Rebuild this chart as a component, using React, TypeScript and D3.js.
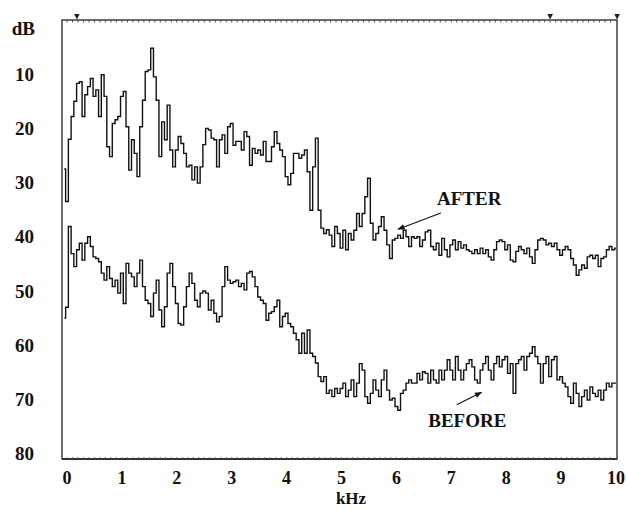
import React, { useEffect, useRef } from "react"
import * as d3 from "d3"

// spectra sampled every 0.05 kHz starting at -0.05 kHz (dB below reference)
const FREQ_START = -0.05
const FREQ_STEP = 0.05

const afterDb = [
  27.5, 33.5, 22, 17.8, 15, 11.7, 11.4, 17.8, 13.8, 12.3, 10.8, 14.1, 12.9, 17.8, 10.1, 14.1, 23.4, 25.2, 19.1, 18.4, 17.8,
  14.1, 13.2, 19.7, 27.7, 22.1, 24.6, 28.9, 19.7, 14.8, 9.5, 9.2, 5.2, 10.5, 14.8, 25.2, 18.8, 22.1, 15.7, 24, 27.1,
  24, 21.5, 22.8, 24.6, 27.1, 26.8, 29.5, 27.1, 30.1, 27.1, 23, 20, 20.3, 21.8, 22.1, 27.1, 22.1, 21.2, 24.6, 19.7,
  19.1, 23.1, 22.4, 22.4, 24, 20.6, 21.5, 26.8, 23.7, 24.6, 24, 24.9, 22.4, 26.1, 26.1, 23.4, 20.6, 22.8, 24, 25.2,
  28.9, 30.4, 28.3, 24.6, 24.6, 25.5, 24.9, 24, 28, 35.1, 27.1, 21.8, 35.1, 38.4, 39.4, 38.7, 39.7, 41.8, 38.1, 39.4,
  42.1, 38.8, 42.4, 39.4, 40.6, 38.8, 35.7, 38.1, 35.7, 32.6, 29.2, 37.5, 40.6, 39.4, 38.1, 36.3, 38.8, 41.5, 44, 40.6,
  40.3, 39.7, 40.3, 38.8, 40, 41.8, 40, 40.3, 40, 41.8, 40.6, 39.1, 38.8, 41.8, 42.4, 41.2, 43.4, 40.3, 42.4, 43.7,
  41.5, 40.6, 42.4, 40.9, 42.1, 41.5, 42.4, 42.7, 43.1, 42.4, 43.1, 42.1, 43.1, 42.4, 43.7, 44.3, 42.4, 40.9, 40.6, 40.9,
  42.4, 41.5, 44.3, 44.6, 42.7, 41.8, 42.4, 43.1, 42.1, 43.7, 44.9, 42.4, 40.6, 40.3, 40.6, 41.5, 41.2, 41.8, 41.2, 42.4,
  43.4, 42.4, 41.8, 42.4, 44, 45.2, 47.1, 46.1, 45.2, 45.8, 43.7, 43.4, 44, 43.4, 45.5, 44, 43.7, 42.4, 41.8, 42.4,
  42.1,
]

const beforeDb = [
  55, 53, 38.1, 43.1, 45.5, 42.4, 41.2, 44.3, 41.2, 40, 41.8, 43.7, 44, 44.6, 46.7, 48, 45.5, 47.7, 49.2, 48, 50.4,
  46.7, 52.3, 44.9, 46.7, 47.4, 49.2, 46.7, 44.3, 49.2, 51.7, 52.3, 54.7, 50.4, 48, 53.5, 56.6, 52.9, 46.7, 44.9, 49.2,
  52.3, 56, 56.3, 52.9, 49.2, 46.7, 48.6, 51.7, 52.9, 50.4, 50, 50.4, 53.5, 51.7, 54.1, 55.7, 54.7, 49.2, 45.5, 48,
  48.6, 48.3, 48, 49.2, 48.6, 49.8, 46.7, 46.4, 47.4, 49.2, 51.1, 51.7, 52.3, 55.4, 54.1, 53.8, 52.9, 51.7, 56.6, 54.7,
  54.1, 56, 56.6, 57.8, 59, 61.5, 57.8, 61.5, 57.2, 61.5, 62.1, 63.3, 65.8, 66.7, 65.8, 68.9, 68.3, 69.5, 68, 68.9,
  68, 67, 69.5, 68.3, 66.4, 69.5, 67, 63.4, 64.6, 69.5, 70.7, 68.9, 66.4, 68.3, 69.5, 66.4, 64.6, 68.3, 70.1, 69.8,
  71.3, 72, 68.9, 68.3, 67, 66.4, 67, 67, 65.2, 66.4, 64.9, 65.2, 67, 64.6, 66.4, 67, 64.6, 66.4, 64.6, 62.7,
  64.6, 66.4, 62.1, 64.6, 66.4, 64.6, 63.4, 62.7, 64, 66.4, 67, 64.6, 63.4, 62.1, 64.6, 66.4, 63.4, 62.1, 64, 62.7,
  62.1, 65.2, 63.4, 68.9, 63.4, 62.7, 62.1, 64.6, 62.1, 61.5, 60.3, 62.1, 63.4, 67, 63.4, 62.1, 65.8, 62.7, 62.1, 66.4,
  65.8, 67, 67.7, 69.5, 70.7, 67, 68.9, 71.3, 69.5, 68.3, 70.1, 67.7, 68.9, 69.5, 68.3, 70.1, 68.3, 67, 67.7, 67,
  67,
]

const xTicks = [0, 1, 2, 3, 4, 5, 6, 7, 8, 9, 10]
const yTicks = [10, 20, 30, 40, 50, 60, 70, 80]
const markerKHz = [0.18, 8.8, 10.02]

// label text, anchor point and arrow start/end, all in kHz / dB
const notes = [
  { text: "AFTER", at: [6.74, 34.1], from: [6.81, 35.6], to: [6.03, 38.6] },
  { text: "BEFORE", at: [6.58, 75.1], from: [7.1, 71.0], to: [7.55, 68.7] },
]

const W = 626
const H = 509
const FONT = "'Liberation Serif', 'DejaVu Serif', serif"

export const useD3 = (
  renderChartFn: (sel: d3.Selection<SVGSVGElement, unknown, null, undefined>) => void,
  dependencies: any[]
) => {
  const ref = useRef<SVGSVGElement>(null)
  useEffect(() => {
    if (ref.current) {
      const svg = d3.select(ref.current!)
      svg.selectAll("*").remove()
      renderChartFn(svg)
    }
  }, dependencies)
  return ref
}

export default function App() {
  const ref = useD3((svg) => {
    const frame = { left: 62, right: 617, top: 20, bottom: 459 }

    const x = d3.scaleLinear().domain([0, 10]).range([67, 616])
    const y = d3.scaleLinear().domain([0, 81]).range([frame.top, frame.bottom])

    svg
      .append("defs")
      .append("marker")
      .attr("id", "head")
      .attr("viewBox", "0 0 10 10")
      .attr("refX", 9)
      .attr("refY", 5)
      .attr("markerWidth", 7)
      .attr("markerHeight", 6)
      .attr("orient", "auto")
      .append("path")
      .attr("d", "M0,1 L10,5 L0,9 Z")
      .attr("fill", "#111")

    // frame
    const g = svg.append("g")
    g.append("rect")
      .attr("x", frame.left)
      .attr("y", frame.top)
      .attr("width", frame.right - frame.left)
      .attr("height", frame.bottom - frame.top)
      .attr("fill", "none")
      .attr("stroke", "#222")
      .attr("stroke-width", 1.3)
    g.append("line")
      .attr("x1", frame.left)
      .attr("x2", frame.right)
      .attr("y1", frame.bottom)
      .attr("y2", frame.bottom)
      .attr("stroke", "#333")
      .attr("stroke-width", 2)

    // ruler ticks on top and bottom frame
    const minor = d3.range(0, 100).map((i) => i / 10)
    g.selectAll(".top-tick")
      .data(minor)
      .enter()
      .append("line")
      .attr("x1", (d) => x(d))
      .attr("x2", (d) => x(d))
      .attr("y1", frame.top)
      .attr("y2", frame.top + 2.5)
      .attr("stroke", "#444")
      .attr("stroke-width", 0.9)
    g.selectAll(".bot-tick")
      .data(minor)
      .enter()
      .append("line")
      .attr("x1", (d) => x(d))
      .attr("x2", (d) => x(d))
      .attr("y1", frame.bottom)
      .attr("y2", frame.bottom - 2)
      .attr("stroke", "#555")
      .attr("stroke-width", 0.8)

    // marker triangles above the frame
    g.selectAll(".mk")
      .data(markerKHz)
      .enter()
      .append("path")
      .attr("d", (d) => `M${x(d) - 2.8},${frame.top - 6} L${x(d) + 2.8},${frame.top - 6} L${x(d)},${frame.top - 0.5} Z`)
      .attr("fill", "#222")

    // axis labels
    g.selectAll(".ylab")
      .data(yTicks)
      .enter()
      .append("text")
      .attr("x", 34)
      .attr("y", (d) => y(d))
      .attr("dy", "0.35em")
      .attr("text-anchor", "end")
      .attr("font-family", FONT)
      .attr("font-weight", "bold")
      .attr("font-size", 19)
      .attr("fill", "#111")
      .text((d) => d)
    g.append("text")
      .attr("x", 35)
      .attr("y", 28)
      .attr("dy", "0.35em")
      .attr("text-anchor", "end")
      .attr("font-family", FONT)
      .attr("font-weight", "bold")
      .attr("font-size", 19)
      .attr("fill", "#111")
      .text("dB")

    g.selectAll(".xlab")
      .data(xTicks)
      .enter()
      .append("text")
      .attr("x", (d) => x(d))
      .attr("y", 484)
      .attr("text-anchor", "middle")
      .attr("font-family", FONT)
      .attr("font-weight", "bold")
      .attr("font-size", 18)
      .attr("fill", "#111")
      .text((d) => d)
    g.append("text")
      .attr("x", 351)
      .attr("y", 504)
      .attr("text-anchor", "middle")
      .attr("font-family", FONT)
      .attr("font-weight", "bold")
      .attr("font-size", 17)
      .attr("fill", "#111")
      .text("kHz")

    // traces
    const line = d3
      .line<number>()
      .x((_, i) => x(FREQ_START + i * FREQ_STEP))
      .y((d) => y(d))
      .curve(d3.curveStep)

    ;[afterDb, beforeDb].forEach((series) => {
      g.append("path")
        .attr("d", line(series))
        .attr("fill", "none")
        .attr("stroke", "#111")
        .attr("stroke-width", 1.4)
        .attr("stroke-linejoin", "miter")
    })

    // annotations
    notes.forEach((n) => {
      g.append("line")
        .attr("x1", x(n.from[0]))
        .attr("y1", y(n.from[1]))
        .attr("x2", x(n.to[0]))
        .attr("y2", y(n.to[1]))
        .attr("stroke", "#111")
        .attr("stroke-width", 1.2)
        .attr("marker-end", "url(#head)")
      g.append("text")
        .attr("x", x(n.at[0]))
        .attr("y", y(n.at[1]))
        .attr("font-family", FONT)
        .attr("font-weight", "bold")
        .attr("font-size", 19)
        .attr("fill", "#111")
        .text(n.text)
    })
  }, [])

  return (
    <svg
      ref={ref}
      width={W}
      height={H}
      style={{ position: "absolute", left: 0, top: 0, background: "#fff" }}
    />
  )
}
